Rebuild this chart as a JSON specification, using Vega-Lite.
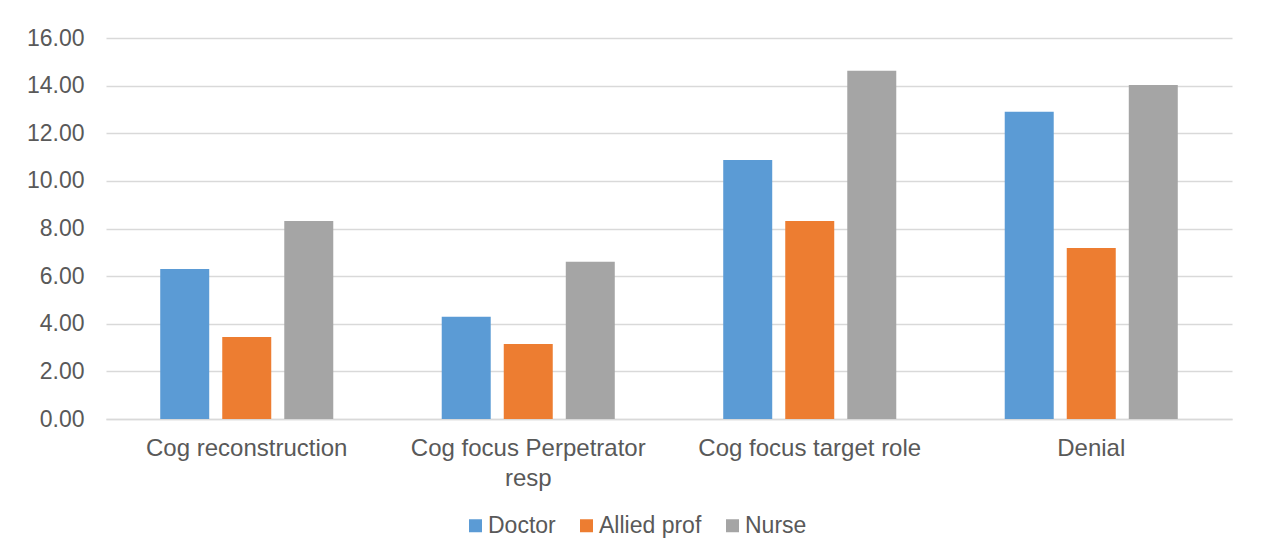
{
  "$schema": "https://vega.github.io/schema/vega-lite/v6.json",
  "width": 1126,
  "height": 381,
  "autosize": "none",
  "padding": {"left": 106, "top": 38, "right": 36, "bottom": 139},
  "background": "white",
  "data": {
    "values": [
      {"category": "Cog reconstruction", "group": "Doctor", "value": 6.30},
      {"category": "Cog reconstruction", "group": "Allied prof", "value": 3.44},
      {"category": "Cog reconstruction", "group": "Nurse", "value": 8.32},
      {"category": "Cog focus Perpetrator resp", "group": "Doctor", "value": 4.29},
      {"category": "Cog focus Perpetrator resp", "group": "Allied prof", "value": 3.15},
      {"category": "Cog focus Perpetrator resp", "group": "Nurse", "value": 6.60},
      {"category": "Cog focus target role", "group": "Doctor", "value": 10.88},
      {"category": "Cog focus target role", "group": "Allied prof", "value": 8.32},
      {"category": "Cog focus target role", "group": "Nurse", "value": 14.62},
      {"category": "Denial", "group": "Doctor", "value": 12.90},
      {"category": "Denial", "group": "Allied prof", "value": 7.18},
      {"category": "Denial", "group": "Nurse", "value": 14.03}
    ]
  },
  "mark": {"type": "bar"},
  "encoding": {
    "x": {
      "field": "category",
      "type": "nominal",
      "sort": null,
      "title": null,
      "scale": {"paddingInner": 0.339, "paddingOuter": 0.1695},
      "axis": {
        "labelAngle": 0,
        "labelFont": "Liberation Sans",
        "labelFontSize": 24,
        "labelColor": "#595959",
        "labelPadding": 17,
        "labelLineHeight": 30,
        "labelLimit": 400,
        "ticks": false,
        "domainColor": "#d9d9d9",
        "domainWidth": 1.5,
        "labelExpr": "datum.value == 'Cog focus Perpetrator resp' ? ['Cog focus Perpetrator', 'resp'] : datum.value"
      }
    },
    "xOffset": {
      "field": "group",
      "type": "nominal",
      "sort": ["Doctor", "Allied prof", "Nurse"],
      "scale": {"paddingInner": 0.21, "paddingOuter": 0.105}
    },
    "y": {
      "field": "value",
      "type": "quantitative",
      "title": null,
      "scale": {"domain": [0, 16], "nice": false},
      "axis": {
        "values": [0, 2, 4, 6, 8, 10, 12, 14, 16],
        "format": ".2f",
        "labelFont": "Liberation Sans",
        "labelFontSize": 23,
        "labelColor": "#595959",
        "labelPadding": 22,
        "ticks": false,
        "domain": false,
        "gridColor": "#d9d9d9",
        "gridWidth": 1.5
      }
    },
    "color": {
      "field": "group",
      "type": "nominal",
      "sort": ["Doctor", "Allied prof", "Nurse"],
      "scale": {"domain": ["Doctor", "Allied prof", "Nurse"], "range": ["#5b9bd5", "#ed7d31", "#a5a5a5"]},
      "legend": {
        "title": null,
        "orient": "none",
        "legendX": 358,
        "legendY": 476,
        "direction": "horizontal",
        "symbolType": "square",
        "symbolSize": 169,
        "symbolStrokeWidth": 0,
        "labelFont": "Liberation Sans",
        "labelFontSize": 23,
        "labelColor": "#595959",
        "labelOffset": 1,
        "columnPadding": 19
      }
    }
  },
  "config": {"view": {"stroke": null}}
}
